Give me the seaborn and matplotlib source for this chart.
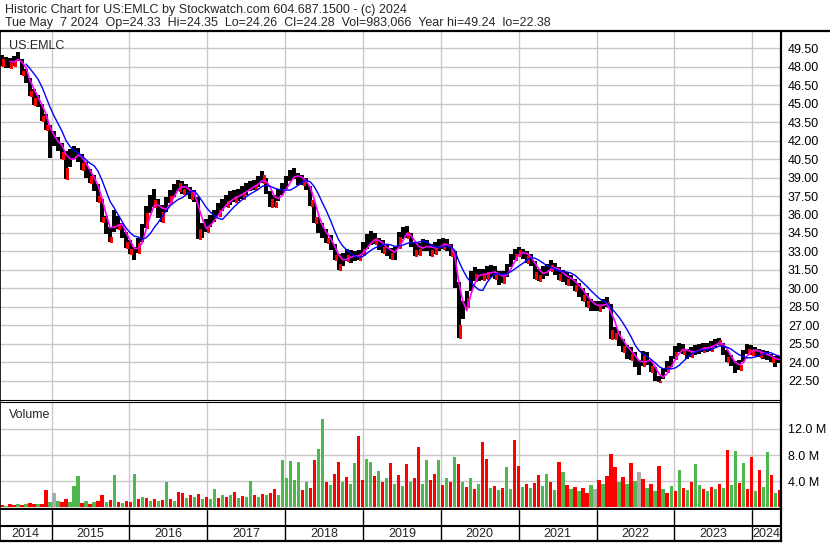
import pandas as pd
import seaborn as sns
import matplotlib.pyplot as plt
from matplotlib.lines import Line2D

# price samples (about one every 19 days)
closes = [48.6, 48.4, 48.3, 48.5, 49.0, 47.7, 47.1, 46.0, 45.5, 45.2,
          44.0, 43.3, 42.0, 42.1, 41.7, 41.1, 39.8, 40.7, 41.0, 40.8,
          40.2, 39.5, 39.1, 38.5, 37.5, 35.8, 34.8, 34.2, 35.9, 35.2,
          34.6, 33.8, 33.2, 32.8, 33.7, 34.6, 36.1, 36.9, 37.2, 36.2,
          36.2, 36.9, 37.5, 38.0, 38.6, 38.1, 38.0, 37.8, 37.5, 34.8,
          34.7, 35.1, 35.5, 35.9, 36.4, 36.8, 37.1, 37.3, 37.5, 37.6,
          37.8, 38.1, 38.3, 38.4, 38.7, 39.2, 38.1, 37.3, 37.0, 37.6,
          38.1, 38.6, 39.2, 39.4, 38.8, 38.8, 38.5, 37.2, 35.8, 35.0,
          34.5, 34.1, 33.6, 32.7, 32.0, 32.3, 32.7, 32.6, 32.6, 32.7,
          33.2, 33.7, 34.0, 34.1, 33.6, 33.4, 33.1, 32.9, 32.8, 34.2,
          34.5, 34.6, 33.9, 33.1, 33.2, 33.5, 33.5, 33.1, 33.3, 33.5,
          33.7, 33.5, 33.1, 31.5, 27.0, 28.4, 29.2, 30.8, 31.2, 31.1,
          31.1, 31.3, 31.4, 31.3, 30.8, 30.9, 31.5, 32.3, 32.8, 33.1,
          32.8, 32.6, 32.3, 31.3, 31.1, 31.3, 31.5, 31.9, 31.6, 31.2,
          31.0, 30.8, 30.7, 30.3, 29.8, 29.5, 29.0, 28.6, 28.6, 28.6,
          28.7, 28.9, 26.6, 26.4, 25.8, 25.3, 24.8, 24.7, 24.2, 23.4,
          24.5, 24.3, 23.7, 22.9, 22.5, 23.0, 23.7, 24.1, 24.8, 25.2,
          25.1, 24.7, 24.8, 25.0, 25.1, 25.2, 25.2, 25.3, 25.6, 25.8,
          25.0, 24.4, 24.1, 23.5, 23.8, 24.6, 25.1, 25.0, 24.9, 24.8,
          24.6, 24.5, 24.4, 24.0, 24.28]

highs = [49.0, 48.8, 48.7, 48.9, 49.24, 48.6, 47.8, 47.1, 46.2, 45.7,
         45.0, 44.2, 43.3, 42.8, 42.3, 41.8, 41.2, 41.3, 41.6, 41.4,
         40.9, 40.3, 39.7, 39.2, 38.5, 37.3, 35.9, 35.0, 36.4, 35.9,
         35.3, 34.6, 33.9, 33.4, 34.1, 35.2, 36.7, 37.6, 38.1, 37.3,
         36.8, 37.4, 38.0, 38.5, 38.8, 38.7, 38.5, 38.2, 38.0, 37.4,
         35.3, 35.6, 36.0, 36.4, 36.9, 37.3, 37.6, 37.9, 38.0, 38.1,
         38.3, 38.6, 38.7, 38.8, 39.1, 39.5, 39.0, 37.9, 37.6, 38.1,
         38.6, 39.1, 39.6, 39.8, 39.4, 39.2, 39.0, 38.3, 37.0, 35.8,
         35.3, 34.8, 34.3, 33.6, 32.8, 32.9, 33.2, 33.1, 33.0, 33.1,
         33.8, 34.4, 34.7, 34.5, 34.1, 33.9, 33.6, 33.3, 33.4, 34.6,
         35.0, 35.1, 34.5, 33.7, 33.7, 34.0, 33.9, 33.6, 33.8, 34.0,
         34.1, 34.0, 33.6, 33.0, 30.5, 29.0, 29.8, 31.4, 31.7, 31.6,
         31.6, 31.8, 31.9, 31.8, 31.4, 31.4, 32.0, 32.8, 33.2, 33.4,
         33.2, 33.0, 32.8, 32.2, 31.6, 31.8, 32.0, 32.3, 32.1, 31.7,
         31.5, 31.3, 31.1, 30.8, 30.4, 30.0, 29.6, 29.1, 29.0, 29.0,
         29.1, 29.3, 28.7, 26.9, 26.5, 25.9, 25.4, 25.2, 24.8, 24.2,
         24.9, 24.8, 24.2, 23.6, 22.9, 23.5, 24.1, 24.5, 25.3, 25.6,
         25.5, 25.1, 25.2, 25.4, 25.5, 25.6, 25.6, 25.7, 25.9, 26.0,
         25.6, 25.0, 24.6, 24.1, 24.2, 25.0, 25.5, 25.4, 25.2, 25.1,
         25.0, 24.9, 24.7, 24.5, 24.5]

lows = [48.1, 47.9, 47.9, 48.1, 48.5, 47.3, 46.7, 45.6, 44.9, 44.7,
        43.6, 42.9, 40.6, 41.6, 41.2, 40.5, 38.9, 39.9, 40.5, 40.3,
        39.6, 39.0, 38.6, 37.9, 37.0, 35.4, 34.4, 33.8, 34.6, 34.8,
        34.1, 33.3, 32.8, 32.3, 32.9, 33.8, 34.9, 36.1, 36.6, 35.7,
        35.4, 36.2, 36.9, 37.4, 37.9, 37.7, 37.6, 37.3, 37.0, 34.0,
        34.1, 34.6, 35.0, 35.4, 35.9, 36.3, 36.6, 36.8, 37.0, 37.1,
        37.3, 37.6, 37.9, 38.0, 38.2, 38.6, 37.7, 36.6, 36.6, 37.1,
        37.6, 38.1, 38.7, 38.9, 38.4, 38.4, 38.0, 36.7, 35.3, 34.5,
        34.1, 33.7, 33.1, 32.3, 31.5, 31.8, 32.2, 32.1, 32.2, 32.3,
        32.7, 33.2, 33.5, 33.6, 33.1, 32.9, 32.6, 32.4, 32.3, 33.3,
        34.0, 34.1, 33.4, 32.6, 32.7, 33.0, 33.0, 32.6, 32.8, 33.0,
        33.2, 33.0, 32.6, 30.0, 26.0, 27.5, 28.5, 29.8, 30.6, 30.6,
        30.7, 30.8, 30.9, 30.8, 30.3, 30.4, 30.9, 31.7, 32.3, 32.6,
        32.4, 32.1, 31.8, 30.8, 30.6, 30.8, 31.0, 31.4, 31.1, 30.7,
        30.5, 30.3, 30.2, 29.8, 29.3, 29.0, 28.5, 28.2, 28.2, 28.2,
        28.3, 28.5, 25.9, 25.9, 25.3, 24.8, 24.3, 24.2, 23.6, 23.0,
        23.7, 23.8, 23.2, 22.5, 22.38, 22.6, 23.2, 23.6, 24.3, 24.8,
        24.7, 24.3, 24.4, 24.6, 24.7, 24.8, 24.8, 24.9, 25.2, 25.4,
        24.6, 24.0, 23.7, 23.1, 23.4, 24.0, 24.7, 24.6, 24.5, 24.4,
        24.3, 24.2, 24.0, 23.6, 23.9]

# volume in millions
volumes = [0.3, 0.2, 0.4, 0.3, 0.5, 0.3, 0.4, 0.6, 0.4, 0.5,
           0.4, 2.6, 0.8, 2.2, 1.0, 0.8, 1.2, 0.7, 3.3, 4.7,
           0.6, 0.9, 0.5, 0.8, 1.0, 1.8, 0.7, 1.1, 4.9, 0.8,
           0.6, 0.9, 0.7, 5.1, 1.2, 1.5, 1.4, 1.0, 1.3, 0.9,
           1.1, 3.8, 1.2, 1.0, 2.3, 2.1, 1.4, 1.9, 1.6, 2.0,
           1.2, 1.5, 1.3, 2.7, 1.4, 1.8, 1.5, 1.9, 2.3, 1.4,
           1.7, 1.5, 4.0, 1.8, 1.6, 2.0, 1.8, 2.2, 2.8, 1.9,
           7.2, 4.5, 7.1, 4.2, 6.9, 2.6, 3.8, 2.9, 7.2, 9.0,
           13.6, 3.9, 3.4, 5.1, 6.9, 3.8, 4.6, 3.5, 6.7, 10.9,
           4.2, 7.4, 6.9, 4.8, 5.6, 3.9, 4.4, 6.7, 3.6, 4.9,
           3.2, 6.6, 3.8, 4.4, 9.2, 3.6, 7.2, 4.1, 5.1, 7.2,
           3.4, 4.5, 3.8, 7.7, 6.6, 3.9, 3.1, 4.4, 2.8, 3.5,
           10.0, 7.4, 2.9, 3.3, 2.6, 3.0, 6.1, 2.8, 10.3, 6.3,
           3.1, 3.6, 2.9, 3.7, 5.0, 3.3, 5.1, 3.9, 2.6, 6.9,
           5.4, 3.4, 2.7, 3.1, 2.5, 3.0, 2.2, 3.4, 2.8, 4.1,
           3.6, 4.7, 8.2, 6.2, 3.8, 4.6, 3.5, 6.7, 4.0, 5.4,
           4.3, 2.9, 3.6, 2.4, 6.3, 2.7, 2.1, 3.3, 2.5, 5.7,
           3.0, 2.6, 3.8, 6.6, 3.4, 2.8, 2.4, 3.1, 2.7, 3.5,
           2.9, 8.8, 3.4, 8.6, 3.7, 6.7, 2.8, 7.7, 2.5, 5.7,
           3.1, 8.5, 4.9, 2.2, 2.6]

# day direction of each volume bar: g = up, r = down, n = unchanged
volume_dir = ("rgrrgrgrrg" "rrgngrrggg" "rgrgrrgrgr" "grrgrgrgrg" "rgrgrrgrgr"
              "grggrgrgrg" "rggrgrgrrg" "gggggrgrrg" "grgrrgrggr" "rggrgrgrgr"
              "grgrrggrrg" "rgrgrgrgrg" "rrgrgrggrr" "grgrrggrgr" "grgrgrrgnr"
              "grrrgrgrgn" "rgrgrgrgrg" "rgrggrgrgr" "grggrgrrgr" "ggrgr")

years = [2014, 2015, 2016, 2017, 2018, 2019, 2020, 2021, 2022, 2023, 2024]
price_ticks = [22.5, 24.0, 25.5, 27.0, 28.5, 30.0, 31.5, 33.0, 34.5, 36.0,
               37.5, 39.0, 40.5, 42.0, 43.5, 45.0, 46.5, 48.0, 49.5]
volume_ticks = [4, 8, 12]

title1 = "Historic Chart for US:EMLC by Stockwatch.com 604.687.1500 - (c) 2024"
title2 = ("Tue May  7 2024  Op=24.33  Hi=24.35  Lo=24.26  Cl=24.28  "
          "Vol=983,066  Year hi=49.24  lo=22.38")

df = pd.DataFrame({
    "date": pd.date_range("2014-05-13", "2024-05-07", periods=len(closes)),
    "close": closes, "high": highs, "low": lows, "volume": volumes,
    "dir": list(volume_dir),
})
df["ma_short"] = df["close"].rolling(3).mean()
df["ma_long"] = df["close"].rolling(7).mean()
down = df[df["dir"] == "r"]
dir_colors = {"g": "#4db84d", "r": "#ff0000", "n": "#aaaaaa"}

W, H = 830, 543


def box(x0, y0, x1, y1):
    return [x0 / W, 1 - y1 / H, (x1 - x0) / W, (y1 - y0) / H]


sns.set_style("white")
plt.rcParams["font.family"] = ["Liberation Sans", "DejaVu Sans"]
grid_c = "#c8c8c8"

fig = plt.figure(figsize=(W / 100, H / 100), dpi=100)
ax = fig.add_axes(box(0, 32, 781, 400))
axv = fig.add_axes(box(0, 402, 781, 509))
axd = fig.add_axes(box(0, 510, 781, 541))

xmin, xmax = pd.Timestamp("2014-05-04"), pd.Timestamp("2024-05-15")
year_starts = [pd.Timestamp(f"{y}-01-01") for y in years[1:]]
nudge = pd.Timedelta(days=6)

# price panel
for d in year_starts:
    ax.axvline(d, color=grid_c, lw=1, zorder=0)
for p in price_ticks:
    ax.axhline(p, color=grid_c, lw=1, zorder=0)
ax.vlines(df["date"], df["low"], df["high"], colors="black", lw=2.6,
          antialiased=False, zorder=2)
ax.vlines(down["date"] + nudge, down["low"], down["close"], colors="#ff0000", lw=0.9,
          antialiased=False, zorder=2)
sns.lineplot(data=df, x="date", y="ma_short", ax=ax, color="#ff00ff", lw=1.2, zorder=3)
sns.lineplot(data=df, x="date", y="ma_long", ax=ax, color="#0000ff", lw=1.0, zorder=3)
ax.set_xlim(xmin, xmax)
ax.set_ylim(20.93, 50.83)
ax.set_yticks(price_ticks)
ax.set_yticklabels([f"{p:.2f}" for p in price_ticks])
ax.yaxis.tick_right()
ax.tick_params(axis="y", length=0, pad=5, labelsize=9, labelcolor="black")
ax.tick_params(axis="x", bottom=False, labelbottom=False)
ax.set_xlabel("")
ax.set_ylabel("")
ax.text(0.012, 0.978, "US:EMLC", transform=ax.transAxes, fontsize=9, va="top")

# volume panel
for d in year_starts:
    axv.axvline(d, color=grid_c, lw=1, zorder=0)
for v in volume_ticks:
    axv.axhline(v, color=grid_c, lw=1, zorder=0)
axv.bar(df["date"], df["volume"], width=15, color=df["dir"].map(dir_colors),
        linewidth=0, antialiased=False, zorder=2)
axv.set_xlim(xmin, xmax)
axv.set_ylim(-0.3, 16.15)
axv.set_yticks(volume_ticks)
axv.set_yticklabels([f"{v:.1f} M" for v in volume_ticks])
axv.yaxis.tick_right()
axv.tick_params(axis="y", length=0, pad=5, labelsize=9, labelcolor="black")
axv.tick_params(axis="x", bottom=False, labelbottom=False)
axv.text(0.012, 0.93, "Volume", transform=axv.transAxes, fontsize=9, va="top")

# date rows
axd.set_xlim(xmin, xmax)
axd.set_ylim(0, 1)
axd.axhline(0.5, color="black", lw=1.5)
for d in year_starts:
    axd.axvline(d, color="black", lw=1)
edges = [xmin] + year_starts + [xmax]
for y, a, b in zip(years, edges[:-1], edges[1:]):
    axd.text(a + (b - a) / 2, 0.24, str(y), ha="center", va="center", fontsize=9)
axd.set_xticks([])
axd.set_yticks([])

for a in (ax, axv, axd):
    for s in a.spines.values():
        s.set_color("black")
        s.set_visible(True)
    a.spines["left"].set_linewidth(1.2)
    a.spines["right"].set_linewidth(1.6)
ax.spines["top"].set_visible(False)
ax.spines["bottom"].set_linewidth(0.8)
axv.spines["top"].set_linewidth(0.8)
axv.spines["bottom"].set_linewidth(1.6)
axd.spines["top"].set_visible(False)
axd.spines["bottom"].set_linewidth(1.6)

fig.add_artist(Line2D([0, 1], [1 - 31 / H] * 2, color="black", lw=1.6))
fig.text(5 / W, 1 - 10 / H, title1, fontsize=9, va="center")
fig.text(5 / W, 1 - 23 / H, title2, fontsize=9, va="center")

fig.savefig("out.png", dpi=100)
